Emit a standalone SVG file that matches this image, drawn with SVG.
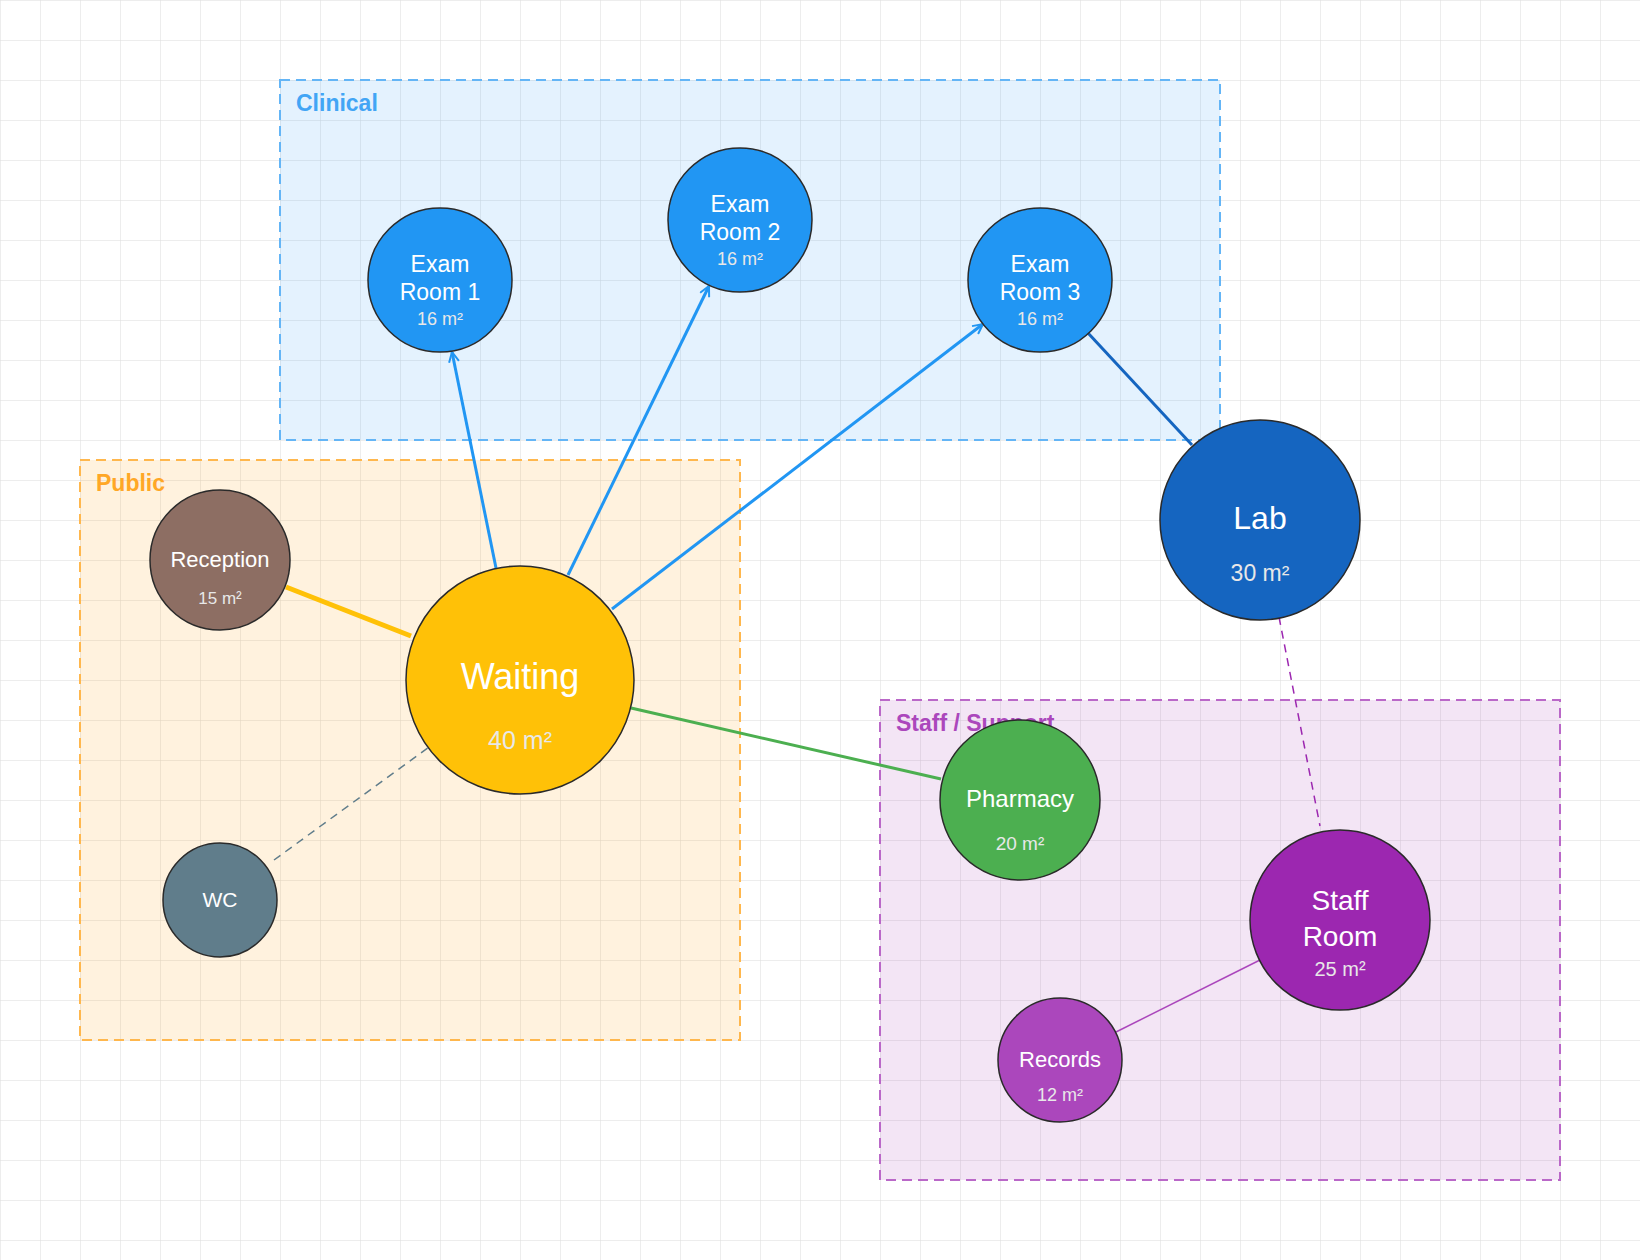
<svg xmlns="http://www.w3.org/2000/svg" width="1640" height="1260" viewBox="0 0 1640 1260">
<defs>
<pattern id="grid" width="40" height="40" patternUnits="userSpaceOnUse"><path d="M40 0H0V40" fill="none" stroke="#dcdcdc" stroke-width="1"/></pattern>
<marker id="arr" viewBox="0 0 12 12" refX="11" refY="6" markerWidth="12" markerHeight="12" markerUnits="userSpaceOnUse" orient="auto"><path d="M1 1L11 6L1 11" fill="none" stroke="#2196F3" stroke-width="2"/></marker>
<style>
text{font-family:"Liberation Sans",Arial,sans-serif;text-anchor:middle;fill:#fff}
.zl{font-weight:bold;font-size:23px;text-anchor:start}
.n{stroke:#2a2a2a;stroke-width:1.5}
.sub{fill:#e8e8e8}
</style>
</defs>
<rect width="1640" height="1260" fill="#fff"/>
<rect width="1640" height="1260" fill="url(#grid)"/>
<g id="zones">
<rect x="280" y="80" width="940" height="360" fill="#2196F3" fill-opacity="0.12" stroke="#64B5F6" stroke-width="2" stroke-dasharray="10,6"/>
<text class="zl" x="296" y="111" style="fill:#42A5F5">Clinical</text>
<rect x="80" y="460" width="660" height="580" fill="#FF9800" fill-opacity="0.13" stroke="#FFB74D" stroke-width="2" stroke-dasharray="10,6"/>
<text class="zl" x="96" y="491" style="fill:#FFA726">Public</text>
<rect x="880" y="700" width="680" height="480" fill="#9C27B0" fill-opacity="0.12" stroke="#BA68C8" stroke-width="2" stroke-dasharray="10,6"/>
<text class="zl" x="896" y="731" style="fill:#AB47BC">Staff / Support</text>
</g>
<g id="connectors" fill="none">
<line x1="496" y1="568" x2="452" y2="352" stroke="#2196F3" stroke-width="3" marker-end="url(#arr)"/>
<line x1="568" y1="575" x2="709" y2="286" stroke="#2196F3" stroke-width="3" marker-end="url(#arr)"/>
<line x1="612" y1="609" x2="983" y2="324" stroke="#2196F3" stroke-width="3" marker-end="url(#arr)"/>
<line x1="1088" y1="333" x2="1192" y2="445" stroke="#1565C0" stroke-width="3"/>
<line x1="286" y1="587" x2="411" y2="636" stroke="#FFC107" stroke-width="5"/>
<line x1="631" y1="708" x2="941" y2="779" stroke="#4CAF50" stroke-width="3"/>
<line x1="274" y1="860" x2="429" y2="747" stroke="#607D8B" stroke-width="1.5" stroke-dasharray="8,6"/>
<line x1="1279" y1="617" x2="1320" y2="826" stroke="#9C27B0" stroke-width="1.5" stroke-dasharray="8,6"/>
<line x1="1260" y1="960" x2="1116" y2="1032" stroke="#AB47BC" stroke-width="1.5"/>
</g>
<g id="exam1"><circle class="n" cx="440" cy="280" r="72" fill="#2196F3"/><text x="440" y="272" font-size="23">Exam</text><text x="440" y="300" font-size="23">Room 1</text><text class="sub" x="440" y="325" font-size="18">16 m²</text></g>
<g id="exam2"><circle class="n" cx="740" cy="220" r="72" fill="#2196F3"/><text x="740" y="212" font-size="23">Exam</text><text x="740" y="240" font-size="23">Room 2</text><text class="sub" x="740" y="265" font-size="18">16 m²</text></g>
<g id="exam3"><circle class="n" cx="1040" cy="280" r="72" fill="#2196F3"/><text x="1040" y="272" font-size="23">Exam</text><text x="1040" y="300" font-size="23">Room 3</text><text class="sub" x="1040" y="325" font-size="18">16 m²</text></g>
<g id="lab"><circle class="n" cx="1260" cy="520" r="100" fill="#1565C0"/><text x="1260" y="529" font-size="32">Lab</text><text class="sub" x="1260" y="581" font-size="23">30 m²</text></g>
<g id="reception"><circle class="n" cx="220" cy="560" r="70" fill="#8D6E63"/><text x="220" y="567" font-size="22">Reception</text><text class="sub" x="220" y="604" font-size="17">15 m²</text></g>
<g id="waiting"><circle class="n" cx="520" cy="680" r="114" fill="#FFC107"/><text x="520" y="689" font-size="36">Waiting</text><text class="sub" x="520" y="749" font-size="25">40 m²</text></g>
<g id="wc"><circle class="n" cx="220" cy="900" r="57" fill="#607D8B"/><text x="220" y="907" font-size="21">WC</text></g>
<g id="pharmacy"><circle class="n" cx="1020" cy="800" r="80" fill="#4CAF50"/><text x="1020" y="807" font-size="24">Pharmacy</text><text class="sub" x="1020" y="850" font-size="19">20 m²</text></g>
<g id="staffroom"><circle class="n" cx="1340" cy="920" r="90" fill="#9C27B0"/><text x="1340" y="910" font-size="28">Staff</text><text x="1340" y="946" font-size="28">Room</text><text class="sub" x="1340" y="976" font-size="20">25 m²</text></g>
<g id="records"><circle class="n" cx="1060" cy="1060" r="62" fill="#AB47BC"/><text x="1060" y="1067" font-size="22">Records</text><text class="sub" x="1060" y="1101" font-size="18">12 m²</text></g>
</svg>
